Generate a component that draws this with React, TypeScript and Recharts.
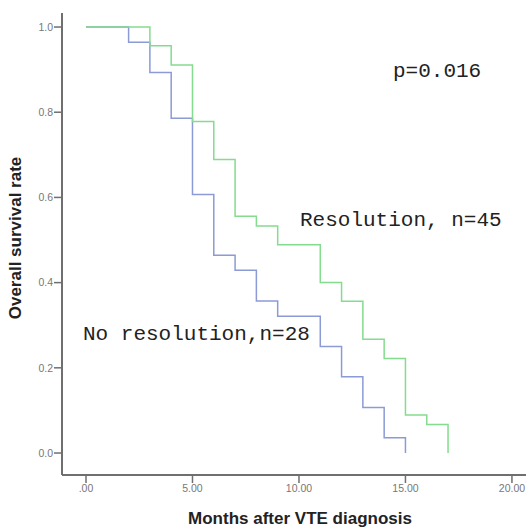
import { LineChart, Line, XAxis, YAxis } from 'recharts';

// Kaplan-Meier steps
const noResTimes = [0, 2, 3, 4, 5, 6, 7, 8, 9, 11, 12, 13, 14, 15];
const noResSurv = [1.0, 0.964, 0.893, 0.786, 0.607, 0.464, 0.429, 0.357, 0.321, 0.25, 0.179, 0.107, 0.036, 0.0];

const resTimes = [0, 3, 4, 5, 6, 7, 8, 9, 11, 12, 13, 14, 15, 16, 17];
const resSurv = [1.0, 0.956, 0.911, 0.778, 0.689, 0.556, 0.533, 0.489, 0.4, 0.356, 0.267, 0.222, 0.089, 0.067, 0.0];

const xTicks = [0, 5, 10, 15, 20];
const xTickLabels = ['.00', '5.00', '10.00', '15.00', '20.00'];
const yTicks = [0, 0.2, 0.4, 0.6, 0.8, 1.0];
const yTickLabels = ['0.0', '0.2', '0.4', '0.6', '0.8', '1.0'];

const noResData = noResTimes.map((t, i) => ({ t, s: noResSurv[i] }));
const resData = resTimes.map((t, i) => ({ t, s: resSurv[i] }));

const AXIS = '#6f6f6f';
const mono = '"Liberation Mono", monospace';
const sans = 'Arial, "Liberation Sans"';

export default function App() {
  return (
    <div style={{ position: 'absolute', left: 0, top: 0, width: 526, height: 529, background: '#fff' }}>
      <LineChart width={526} height={529} margin={{ top: 13, right: 0, bottom: 0, left: 0 }}>
        <XAxis
          dataKey="t"
          type="number"
          domain={[-1.127, 20.66]}
          ticks={xTicks}
          tickFormatter={(v: number) => xTickLabels[xTicks.indexOf(v)]}
          allowDataOverflow
          height={54}
          axisLine={{ stroke: AXIS, strokeWidth: 2 }}
          tickLine={{ stroke: AXIS, strokeWidth: 1.5 }}
          tickSize={8}
          tick={{ fill: '#777', fontSize: 10.5, fontFamily: sans }}
        />
        <YAxis
          type="number"
          domain={[-0.0516, 1.0329]}
          ticks={yTicks}
          tickFormatter={(v: number) => yTickLabels[yTicks.indexOf(v)]}
          allowDataOverflow
          width={62}
          axisLine={{ stroke: AXIS, strokeWidth: 2 }}
          tickLine={{ stroke: AXIS, strokeWidth: 1.5 }}
          tickSize={8}
          tickMargin={1}
          tick={{ fill: '#777', fontSize: 10.5, fontFamily: sans }}
        />
        <Line
          data={noResData}
          dataKey="s"
          type="stepAfter"
          stroke="#8c9ad6"
          strokeWidth={1.5}
          dot={false}
          isAnimationActive={false}
        />
        <Line
          data={resData}
          dataKey="s"
          type="stepAfter"
          stroke="#84dc8e"
          strokeWidth={1.5}
          dot={false}
          isAnimationActive={false}
        />
      </LineChart>

      <div style={{ position: 'absolute', left: 393, top: 61, fontFamily: mono, fontSize: 21, lineHeight: '22px', color: '#222' }}>
        p=0.016
      </div>
      <div style={{ position: 'absolute', left: 300, top: 210, fontFamily: mono, fontSize: 21, lineHeight: '22px', color: '#222', whiteSpace: 'nowrap' }}>
        Resolution, n=45
      </div>
      <div style={{ position: 'absolute', left: 83, top: 324, fontFamily: mono, fontSize: 21, lineHeight: '22px', color: '#222', whiteSpace: 'nowrap' }}>
        No resolution,n=28
      </div>

      <div style={{ position: 'absolute', left: 300, top: 519, transform: 'translate(-50%, -50%)', fontFamily: sans, fontWeight: 'bold', fontSize: 17, lineHeight: '20px', color: '#222', whiteSpace: 'nowrap' }}>
        Months after VTE diagnosis
      </div>
      <div style={{ position: 'absolute', left: 16, top: 238, transform: 'translate(-50%, -50%) rotate(-90deg)', fontFamily: sans, fontWeight: 'bold', fontSize: 17, lineHeight: '20px', color: '#222', whiteSpace: 'nowrap' }}>
        Overall survival rate
      </div>
    </div>
  );
}
